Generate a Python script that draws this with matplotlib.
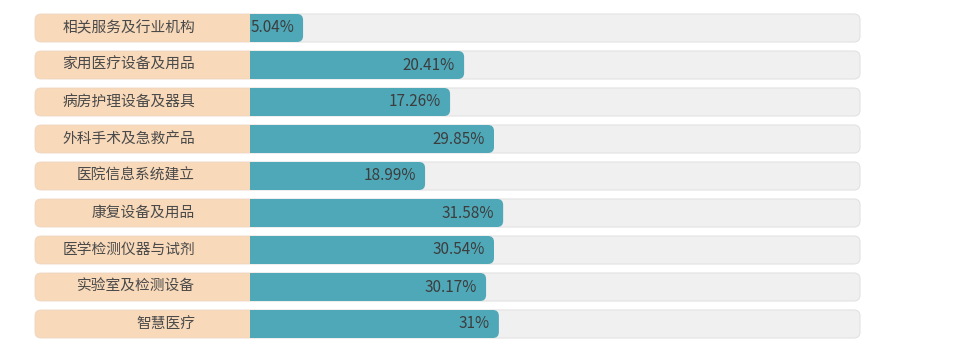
import matplotlib.pyplot as plt
from matplotlib.patches import FancyBboxPatch

plt.rcParams['font.family'] = ['Noto Sans CJK SC', 'DejaVu Sans']

categories = ["相关服务及行业机构", "家用医疗设备及用品", "病房护理设备及器具",
              "外科手术及急救产品", "医院信息系统建立", "康复设备及用品",
              "医学检测仪器与试剂", "实验室及检测设备", "智慧医疗"]
value_labels = ["5.04%", "20.41%", "17.26%", "29.85%", "18.99%",
                "31.58%", "30.54%", "30.17%", "31%"]
# bar length as % of the grey track
bar_len = [8.7, 35.1, 32.8, 40.0, 28.7, 41.5, 40.0, 38.7, 40.8]

teal = "#4fa8b8"
peach = "#f8d9ba"
track = "#f0f0f0"

W, H = 960, 360
x0_px, track_px = 250, 610     # track starts at 250px, 610px wide
row_px, first_px = 37, 28
ux = track_px / 100.0          # px per x unit
uy = row_px                    # px per row

fig = plt.figure(figsize=(9.6, 3.6), dpi=100)
ax = fig.add_axes([0, 0, 1, 1])
ax.set_xlim(-x0_px / ux, (W - x0_px) / ux)
ax.set_ylim((H - first_px) / uy, -first_px / uy)
ax.axis("off")

bh = 28 / uy
asp = (1 / uy) / (1 / ux)
rs = 6 / ux
label_left = (35 - x0_px) / ux


def rbox(x, y, w, color, z, ec="none", lw=0):
    p = FancyBboxPatch((x, y - bh / 2), w, bh,
                       boxstyle=f"round,pad=0,rounding_size={rs}",
                       mutation_aspect=asp, fc=color, ec=ec, lw=lw, zorder=z)
    ax.add_patch(p)


for i, (cat, lab, w) in enumerate(zip(categories, value_labels, bar_len)):
    rbox(0, i, 100, track, 1, ec="#e2e2e2", lw=0.8)
    rbox(label_left, i, -label_left + 1.5, peach, 2, ec="#eed6c0", lw=0.6)
    rbox(0, i, w, teal, 3)
    ax.barh(i, 1.5, height=bh, left=0, color=teal, zorder=4)
    ax.text((195 - x0_px) / ux, i, cat, ha="right", va="center",
            fontsize=10.6, color="#4a4a4a", zorder=5)
    ax.text(w - 9 / ux, i, lab, ha="right", va="center",
            fontsize=11, color="#3d3d3d", zorder=5)

fig.savefig("out.png", dpi=100)
